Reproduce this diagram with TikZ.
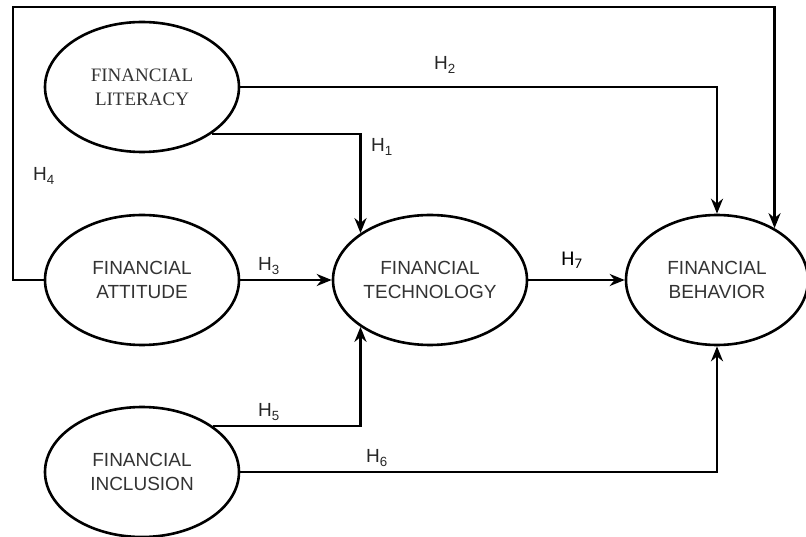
\documentclass[tikz,border=0pt]{standalone}
\usepackage{fontspec}
\setmainfont{Liberation Sans}
\newfontfamily\serifface{Liberation Serif}
\newfontfamily\calface{Carlito}
\usetikzlibrary{shapes.geometric,arrows.meta}
\begin{document}
\begin{tikzpicture}[x=1pt,y=-1pt,
  construct/.style={draw,line width=2.6pt,ellipse,minimum width=194pt,minimum height=130pt,inner sep=0pt,
    align=center,font=\fontsize{19}{24}\selectfont,text=black!80},
  arr/.style={line width=2.6pt,-{Stealth[length=15pt,width=12pt]}},
  hyp/.style={font=\fontsize{19}{22}\selectfont,inner sep=0pt,text=black!85}]
\useasboundingbox (0,0) rectangle (806,537);
\node[construct,font=\serifface\fontsize{19}{24}\selectfont] (lit) at (142,87) {FINANCIAL\\LITERACY};
\node[construct] (att) at (142,280) {FINANCIAL\\ATTITUDE};
\node[construct] (tech) at (430,280) {FINANCIAL\\TECHNOLOGY};
\node[construct,minimum width=182pt] (beh) at (717,280) {FINANCIAL\\BEHAVIOR};
\node[construct] (inc) at (142,472) {FINANCIAL\\INCLUSION};
\coordinate (c1) at (13,7);
% connectors
\draw[arr] (lit.-34) -| (tech.146);
\draw[arr] (lit.east) -| (beh.north);
\draw[arr] (att.west) -| (c1) -| (beh.42);
\draw[arr] (att.east) -- (tech.west);
\draw[arr] (tech.east) -- (beh.west);
\draw[arr] (inc.33) -| (tech.214);
\draw[arr] (inc.east) -| (beh.south);
% labels
\node[hyp] (h1) at (382,147) {H\textsubscript{1}};
\node[hyp] (h2) at (445,65) {H\textsubscript{2}};
\node[hyp] (h3) at (269,266) {H\textsubscript{3}};
\node[hyp] (h4) at (44,176) {H\textsubscript{4}};
\node[hyp] (h5) at (269,412) {H\textsubscript{5}};
\node[hyp] (h6) at (377,458) {H\textsubscript{6}};
\node[hyp,text=black,font=\calface\fontsize{21}{23}\selectfont] (h7) at (572,260) {H\textsubscript{7}};
\end{tikzpicture}
\end{document}
